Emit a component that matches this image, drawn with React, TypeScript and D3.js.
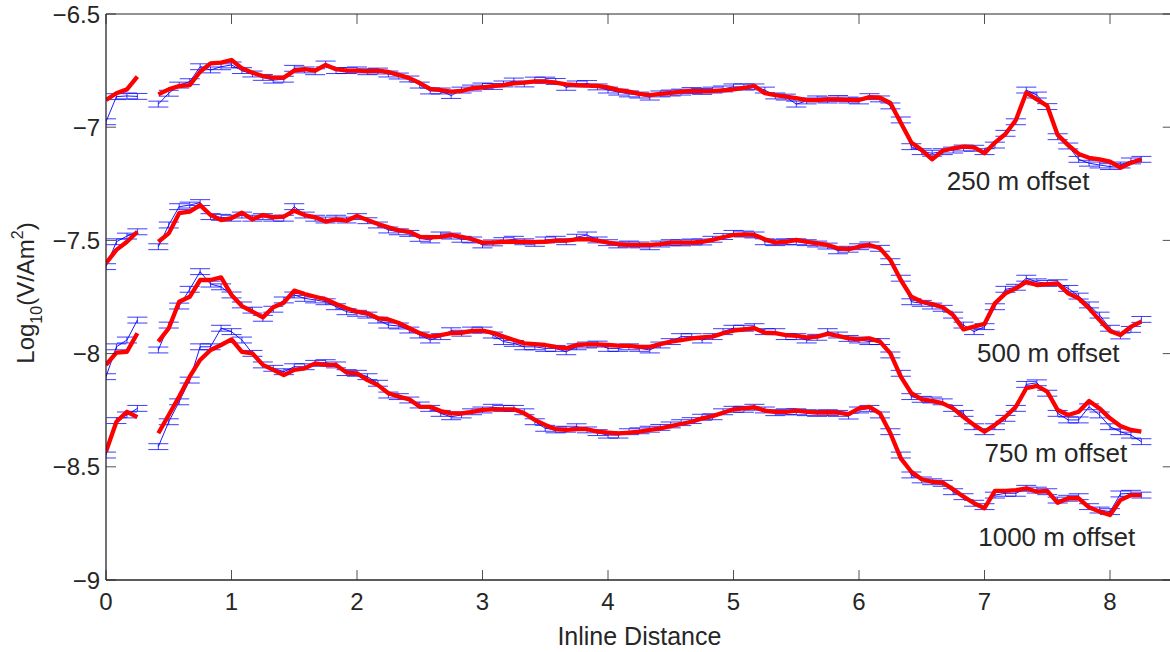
import React from 'react';
import * as d3 from 'd3';

// Inline station positions (one every 1/12 unit); index 4 has no data
const STATIONS: number[] = [
  0, 0.083, 0.167, 0.25, 0.333, 0.417, 0.5, 0.583, 0.667, 0.75, 0.833, 0.917,
  1, 1.083, 1.167, 1.25, 1.333, 1.417, 1.5, 1.583, 1.667, 1.75, 1.833, 1.917,
  2, 2.083, 2.167, 2.25, 2.333, 2.417, 2.5, 2.583, 2.667, 2.75, 2.833, 2.917,
  3, 3.083, 3.167, 3.25, 3.333, 3.417, 3.5, 3.583, 3.667, 3.75, 3.833, 3.917,
  4, 4.083, 4.167, 4.25, 4.333, 4.417, 4.5, 4.583, 4.667, 4.75, 4.833, 4.917,
  5, 5.083, 5.167, 5.25, 5.333, 5.417, 5.5, 5.583, 5.667, 5.75, 5.833, 5.917,
  6, 6.083, 6.167, 6.25, 6.333, 6.417, 6.5, 6.583, 6.667, 6.75, 6.833, 6.917,
  7, 7.083, 7.167, 7.25, 7.333, 7.417, 7.5, 7.583, 7.667, 7.75, 7.833, 7.917,
  8, 8.083, 8.167, 8.25,
];

// Measured data (blue, with error bars)
const DATA_250: (number | null)[] = [
  -6.976, -6.865, -6.862, -6.864, null,
  -6.898, -6.850, -6.814, -6.799, -6.733, -6.747, -6.733, -6.725, -6.750, -6.765,
  -6.780, -6.792, -6.788, -6.740, -6.747, -6.755, -6.721, -6.750, -6.750, -6.747,
  -6.755, -6.752, -6.765, -6.774, -6.787, -6.814, -6.840, -6.840, -6.860, -6.836,
  -6.827, -6.818, -6.820, -6.809, -6.796, -6.809, -6.792, -6.792, -6.798, -6.824,
  -6.809, -6.807, -6.822, -6.836, -6.845, -6.853, -6.858, -6.867, -6.853, -6.849,
  -6.845, -6.838, -6.842, -6.836, -6.831, -6.822, -6.822, -6.822, -6.836, -6.862,
  -6.867, -6.898, -6.884, -6.875, -6.880, -6.873, -6.880, -6.884, -6.865, -6.875,
  -6.906, -6.968, -7.086, -7.108, -7.115, -7.108, -7.101, -7.092, -7.093, -7.108,
  -7.079, -7.027, -6.976, -6.836, -6.858, -6.909, -7.042, -7.083, -7.142, -7.159,
  -7.167, -7.174, -7.167, -7.149, -7.142,
];
const DATA_500: (number | null)[] = [
  -7.616, -7.506, -7.481, -7.462, null,
  -7.528, -7.432, -7.351, -7.344, -7.333, -7.395, -7.398, -7.402, -7.388, -7.402,
  -7.395, -7.402, -7.402, -7.351, -7.388, -7.402, -7.410, -7.402, -7.410, -7.395,
  -7.413, -7.432, -7.454, -7.462, -7.469, -7.491, -7.498, -7.476, -7.481, -7.495,
  -7.498, -7.520, -7.511, -7.501, -7.495, -7.506, -7.513, -7.498, -7.495, -7.506,
  -7.486, -7.476, -7.498, -7.510, -7.520, -7.516, -7.520, -7.528, -7.516, -7.510,
  -7.511, -7.507, -7.507, -7.495, -7.483, -7.469, -7.472, -7.476, -7.506, -7.510,
  -7.506, -7.506, -7.510, -7.516, -7.525, -7.546, -7.539, -7.528, -7.520, -7.535,
  -7.594, -7.667, -7.771, -7.778, -7.790, -7.800, -7.830, -7.874, -7.903, -7.881,
  -7.793, -7.716, -7.707, -7.667, -7.683, -7.690, -7.687, -7.712, -7.746, -7.785,
  -7.830, -7.888, -7.922, -7.893, -7.849,
];
const DATA_750: (number | null)[] = [
  -8.102, -7.970, -7.940, -7.852, null,
  -7.984, -7.874, -7.790, -7.716, -7.638, -7.693, -7.705, -7.741, -7.785, -7.808,
  -7.844, -7.804, -7.763, -7.741, -7.756, -7.763, -7.771, -7.793, -7.815, -7.822,
  -7.830, -7.852, -7.874, -7.878, -7.896, -7.918, -7.940, -7.925, -7.899, -7.910,
  -7.896, -7.896, -7.918, -7.947, -7.955, -7.970, -7.970, -7.977, -7.977, -7.992,
  -7.970, -7.962, -7.958, -7.977, -7.977, -7.970, -7.977, -7.984, -7.962, -7.947,
  -7.925, -7.925, -7.940, -7.925, -7.903, -7.888, -7.888, -7.881, -7.903, -7.903,
  -7.925, -7.925, -7.940, -7.928, -7.903, -7.918, -7.933, -7.940, -7.947, -7.947,
  -8.006, -8.087, -8.190, -8.202, -8.205, -8.213, -8.242, -8.264, -8.323, -8.345,
  -8.323, -8.286, -8.242, -8.136, -8.129, -8.175, -8.264, -8.293, -8.293, -8.235,
  -8.271, -8.323, -8.345, -8.360, -8.389,
];
const DATA_1000: (number | null)[] = [
  -8.448, -8.296, -8.271, -8.242, null,
  -8.411, -8.301, -8.213, -8.117, -7.970, -7.970, -7.888, -7.903, -7.940, -7.999,
  -8.050, -8.065, -8.080, -8.058, -8.058, -8.043, -8.040, -8.050, -8.084, -8.087,
  -8.102, -8.131, -8.183, -8.190, -8.205, -8.227, -8.242, -8.264, -8.279, -8.271,
  -8.257, -8.249, -8.237, -8.242, -8.242, -8.257, -8.301, -8.330, -8.337, -8.334,
  -8.323, -8.337, -8.349, -8.360, -8.360, -8.345, -8.341, -8.334, -8.326, -8.315,
  -8.305, -8.296, -8.281, -8.279, -8.257, -8.246, -8.246, -8.237, -8.249, -8.261,
  -8.257, -8.257, -8.261, -8.264, -8.261, -8.264, -8.276, -8.249, -8.242, -8.271,
  -8.345, -8.448, -8.536, -8.558, -8.566, -8.573, -8.610, -8.632, -8.661, -8.676,
  -8.625, -8.617, -8.617, -8.595, -8.603, -8.610, -8.647, -8.639, -8.632, -8.676,
  -8.691, -8.698, -8.620, -8.617, -8.625,
];

// Model response (red)
const MODEL_250: (number | null)[] = [
  -6.880, -6.850, -6.833, -6.777, null,
  -6.855, -6.833, -6.818, -6.814, -6.755, -6.718, -6.715, -6.703, -6.740, -6.759,
  -6.774, -6.781, -6.781, -6.750, -6.743, -6.750, -6.725, -6.744, -6.750, -6.750,
  -6.752, -6.750, -6.756, -6.769, -6.783, -6.805, -6.831, -6.836, -6.843, -6.840,
  -6.828, -6.824, -6.819, -6.814, -6.806, -6.803, -6.798, -6.798, -6.803, -6.811,
  -6.814, -6.816, -6.818, -6.824, -6.836, -6.843, -6.853, -6.858, -6.853, -6.848,
  -6.843, -6.840, -6.841, -6.840, -6.837, -6.833, -6.826, -6.818, -6.850, -6.858,
  -6.865, -6.872, -6.880, -6.880, -6.877, -6.877, -6.879, -6.880, -6.867, -6.870,
  -6.893, -6.980, -7.068, -7.101, -7.142, -7.104, -7.093, -7.086, -7.089, -7.115,
  -7.068, -7.030, -6.968, -6.848, -6.877, -6.906, -7.034, -7.079, -7.118, -7.135,
  -7.142, -7.152, -7.179, -7.157, -7.142,
];
const MODEL_500: (number | null)[] = [
  -7.601, -7.542, -7.506, -7.462, null,
  -7.506, -7.469, -7.380, -7.373, -7.344, -7.388, -7.410, -7.402, -7.378, -7.407,
  -7.388, -7.398, -7.395, -7.369, -7.388, -7.398, -7.417, -7.407, -7.413, -7.392,
  -7.410, -7.428, -7.442, -7.456, -7.462, -7.484, -7.486, -7.484, -7.476, -7.484,
  -7.495, -7.510, -7.510, -7.506, -7.506, -7.506, -7.508, -7.506, -7.501, -7.501,
  -7.495, -7.494, -7.501, -7.510, -7.517, -7.520, -7.520, -7.520, -7.516, -7.510,
  -7.510, -7.510, -7.506, -7.498, -7.486, -7.476, -7.473, -7.476, -7.495, -7.510,
  -7.506, -7.498, -7.506, -7.513, -7.520, -7.535, -7.539, -7.528, -7.520, -7.535,
  -7.587, -7.675, -7.749, -7.771, -7.781, -7.795, -7.830, -7.893, -7.881, -7.869,
  -7.778, -7.734, -7.712, -7.683, -7.697, -7.693, -7.690, -7.734, -7.756, -7.800,
  -7.852, -7.900, -7.918, -7.881, -7.859,
];
const MODEL_750: (number | null)[] = [
  -8.050, -7.996, -7.992, -7.910, null,
  -7.947, -7.888, -7.771, -7.749, -7.675, -7.675, -7.663, -7.741, -7.790, -7.815,
  -7.840, -7.795, -7.775, -7.722, -7.737, -7.749, -7.760, -7.781, -7.800, -7.815,
  -7.822, -7.844, -7.849, -7.865, -7.888, -7.910, -7.925, -7.918, -7.910, -7.908,
  -7.900, -7.899, -7.908, -7.925, -7.940, -7.955, -7.958, -7.962, -7.970, -7.977,
  -7.962, -7.959, -7.959, -7.962, -7.965, -7.966, -7.970, -7.970, -7.958, -7.947,
  -7.940, -7.933, -7.928, -7.925, -7.910, -7.899, -7.893, -7.888, -7.908, -7.910,
  -7.918, -7.922, -7.928, -7.925, -7.913, -7.922, -7.933, -7.937, -7.933, -7.947,
  -7.999, -8.102, -8.175, -8.202, -8.209, -8.220, -8.242, -8.280, -8.315, -8.345,
  -8.315, -8.279, -8.235, -8.153, -8.143, -8.168, -8.249, -8.271, -8.257, -8.209,
  -8.242, -8.286, -8.320, -8.337, -8.345,
];
const MODEL_1000: (number | null)[] = [
  -8.433, -8.301, -8.257, -8.281, null,
  -8.352, -8.271, -8.190, -8.102, -8.028, -7.984, -7.962, -7.937, -7.992, -7.999,
  -8.050, -8.072, -8.095, -8.072, -8.065, -8.043, -8.050, -8.050, -8.084, -8.087,
  -8.117, -8.139, -8.175, -8.190, -8.202, -8.235, -8.235, -8.254, -8.264, -8.264,
  -8.257, -8.249, -8.246, -8.246, -8.246, -8.264, -8.293, -8.315, -8.334, -8.337,
  -8.334, -8.334, -8.345, -8.349, -8.352, -8.349, -8.345, -8.337, -8.330, -8.320,
  -8.311, -8.301, -8.286, -8.276, -8.261, -8.246, -8.242, -8.237, -8.252, -8.257,
  -8.257, -8.252, -8.257, -8.261, -8.259, -8.261, -8.267, -8.242, -8.235, -8.264,
  -8.352, -8.463, -8.522, -8.555, -8.566, -8.570, -8.599, -8.632, -8.661, -8.683,
  -8.606, -8.606, -8.603, -8.595, -8.610, -8.606, -8.659, -8.639, -8.639, -8.679,
  -8.698, -8.713, -8.647, -8.625, -8.625,
];

const OFFSET_LABELS = ['250 m offset', '500 m offset', '750 m offset', '1000 m offset'];
const ERROR_HALF = [0.013, 0.013, 0.013, 0.013];
const X_TICKS = [0, 1, 2, 3, 4, 5, 6, 7, 8];
const Y_TICKS = [-9, -8.5, -8, -7.5, -7, -6.5];

// label anchor points (data coords)
const LABEL_X = [6.7, 6.94, 7.0, 6.95];
const LABEL_Y = [-7.277, -8.037, -8.479, -8.85];

const W = 1170;
const H = 652;
const FONT = "'Liberation Sans', Arial, Helvetica, sans-serif";
const INK = '#262626';

const fmt = (v: number) => String(v).replace('-', '\u2212');

export default function App() {
  const x = d3.scaleLinear().domain([0, 8.5]).range([106, 1172.75]);
  const y = d3.scaleLinear().domain([-9, -6.5]).range([580, 14]);

  const line = d3
    .line<number | null>()
    .defined((v) => v != null)
    .x((_, i) => x(STATIONS[i]))
    .y((v) => y(v as number));

  const data = [DATA_250, DATA_500, DATA_750, DATA_1000];
  const model = [MODEL_250, MODEL_500, MODEL_750, MODEL_1000];
  const capHalf = 0.08;

  const [x0, x1] = x.range();
  const [yb, yt] = y.range();

  return (
    <div style={{ position: 'absolute', left: 0, top: 0, width: W, height: H, background: '#fff' }}>
      <svg width={W} height={H} style={{ display: 'block' }}>
        <defs>
          <clipPath id="plotclip">
            <rect x={x0} y={yt} width={x1 - x0} height={yb - yt} />
          </clipPath>
        </defs>
        <rect x={0} y={0} width={W} height={H} fill="#fff" />
        <g clipPath="url(#plotclip)">
          {data.map((series, si) => (
            <g key={'d' + si}>
              <path d={line(series) || ''} fill="none" stroke="#0000ff" strokeWidth={0.9} />
              {series.map((v, i) => {
                if (v == null) return null;
                const e = ERROR_HALF[si];
                const cx = x(STATIONS[i]);
                const xa = x(STATIONS[i] - capHalf);
                const xb = x(STATIONS[i] + capHalf);
                const ya = y(v + e);
                const yb2 = y(v - e);
                return (
                  <g key={i} stroke="#0000ff" strokeWidth={0.9} strokeOpacity={0.85}>
                    <line x1={cx} x2={cx} y1={ya} y2={yb2} />
                    <line x1={xa} x2={xb} y1={ya} y2={ya} />
                    <line x1={xa} x2={xb} y1={yb2} y2={yb2} />
                  </g>
                );
              })}
            </g>
          ))}
          {model.map((series, si) => (
            <path
              key={'m' + si}
              d={line(series) || ''}
              fill="none"
              stroke="#ff0000"
              strokeWidth={4.3}
              strokeLinejoin="round"
            />
          ))}
        </g>

        {/* axes box */}
        <g stroke={INK} fill="none">
          <line x1={x0} x2={x1} y1={yb} y2={yb} strokeWidth={1.3} />
          <line x1={x0} x2={x1} y1={yt} y2={yt} strokeWidth={1} />
          <line x1={x0} x2={x0} y1={yt} y2={yb} strokeWidth={1.3} />
          <line x1={x1} x2={x1} y1={yt} y2={yb} strokeWidth={1} />
          {X_TICKS.map((t) => (
            <g key={'xt' + t} strokeWidth={0.8}>
              <line x1={x(t)} x2={x(t)} y1={yb} y2={yb - 10} />
              <line x1={x(t)} x2={x(t)} y1={yt} y2={yt + 10} />
            </g>
          ))}
          {Y_TICKS.map((t) => (
            <g key={'yt' + t} strokeWidth={0.8}>
              <line x1={x0} x2={x0 + 10} y1={y(t)} y2={y(t)} />
              <line x1={x1} x2={x1 - 10} y1={y(t)} y2={y(t)} />
            </g>
          ))}
        </g>

        <g fill={INK} fontFamily={FONT} fontSize={24}>
          {X_TICKS.map((t) => (
            <text key={'xl' + t} x={x(t)} y={610} textAnchor="middle">
              {fmt(t)}
            </text>
          ))}
          {Y_TICKS.map((t) => (
            <text key={'yl' + t} x={100} y={y(t) + 8.5} textAnchor="end">
              {fmt(t)}
            </text>
          ))}
        </g>

        <text x={(x0 + x1) / 2} y={645} textAnchor="middle" fill={INK} fontFamily={FONT} fontSize={25}>
          Inline Distance
        </text>
        <text
          transform={`translate(34, 293) rotate(-90)`}
          textAnchor="middle"
          fill={INK}
          fontFamily={FONT}
          fontSize={24}
        >
          Log
          <tspan fontSize={16} dy={8}>10</tspan>
          <tspan dy={-8}>(V/Am</tspan>
          <tspan fontSize={16} dy={-11}>2</tspan>
          <tspan dy={11}>)</tspan>
        </text>

        <g fill={INK} fontFamily={FONT} fontSize={26}>
          {OFFSET_LABELS.map((lab, i) => (
            <text key={lab} x={x(LABEL_X[i])} y={y(LABEL_Y[i])}>
              {lab}
            </text>
          ))}
        </g>
      </svg>
    </div>
  );
}
